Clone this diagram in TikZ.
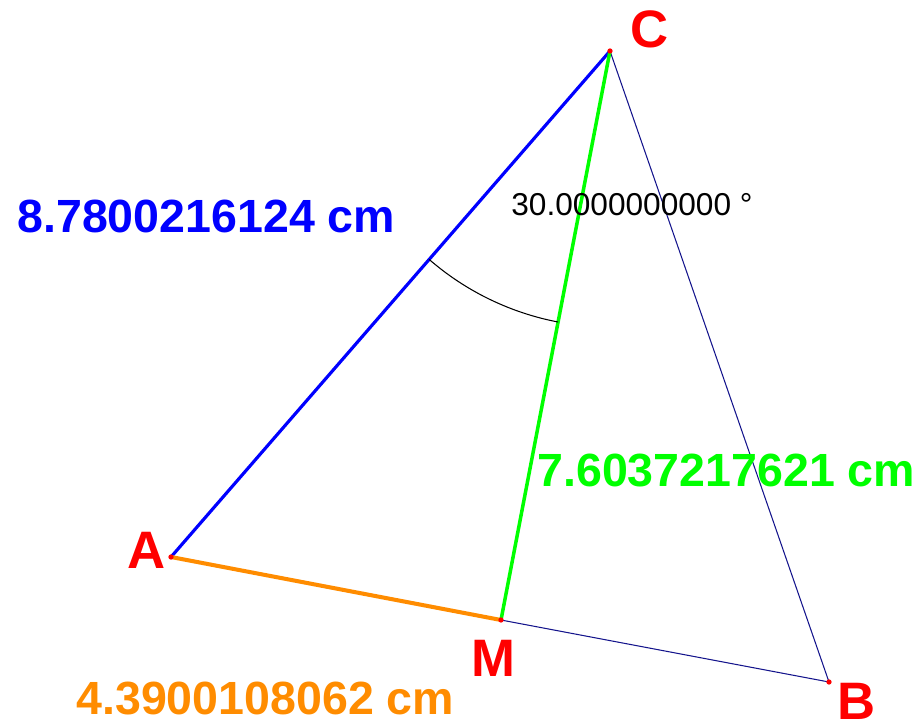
\documentclass[tikz,border=0pt]{standalone}
\usepackage{fontspec}
\setmainfont{Liberation Sans}
\usetikzlibrary{angles}

\definecolor{sideblue}{RGB}{0,0,255}
\definecolor{sidegreen}{RGB}{0,255,0}
\definecolor{sideorange}{RGB}{255,140,0}
\definecolor{sidenavy}{RGB}{20,20,140}
\definecolor{ptred}{RGB}{255,0,0}

\begin{document}
\begin{tikzpicture}[
  x=0.02cm, y=-0.02cm,
  ptlabel/.style = {text=ptred, inner sep=0pt, font=\fontsize{30}{32}\selectfont\bfseries},
  lenlabel/.style = {anchor=west, inner sep=0pt, font=\fontsize{26.5}{29}\selectfont\bfseries},
  thin side/.style = {draw=sidenavy, line width=0.6pt},
  dot/.style = {circle, fill=ptred, inner sep=0pt, minimum size=3pt}
]
  \useasboundingbox (0,0) rectangle (917,721);

  \coordinate (A) at (171,557);
  \coordinate (C) at (610,51);
  \coordinate (M) at (501,620);
  \coordinate (B) at (829,682);

  \draw[thin side] (C) -- (B);
  \draw[thin side] (M) -- (B);
  \draw[sideblue, line width=1.8pt] (A) -- (C);
  \draw[sideorange, line width=2.3pt] (A) -- (M);
  \draw[sidegreen, line width=2pt] (C) -- (M);

  \pic[draw, line width=0.6pt, angle radius=5.52cm] {angle=A--C--M};

  \foreach \p in {A,B,C,M}
    \node[dot] at (\p) {};

  \node[ptlabel] (labC) at (650,29) {C};
  \node[ptlabel] (labA) at (147,550) {A};
  \node[ptlabel] (labM) at (493,658) {M};
  \node[ptlabel] (labB) at (857,701) {B};

  \node[lenlabel, text=sideblue]   (lenCA) at (17,216)  {8.7800216124 cm};
  \node[lenlabel, text=sidegreen]  (lenCM) at (537,470) {7.6037217621 cm};
  \node[lenlabel, text=sideorange] (lenAM) at (76,698)  {4.3900108062 cm};
  \node[anchor=west, inner sep=0pt, font=\fontsize{18}{20}\selectfont] (angACM) at (511,205) {30.0000000000 °};
\end{tikzpicture}
\end{document}
